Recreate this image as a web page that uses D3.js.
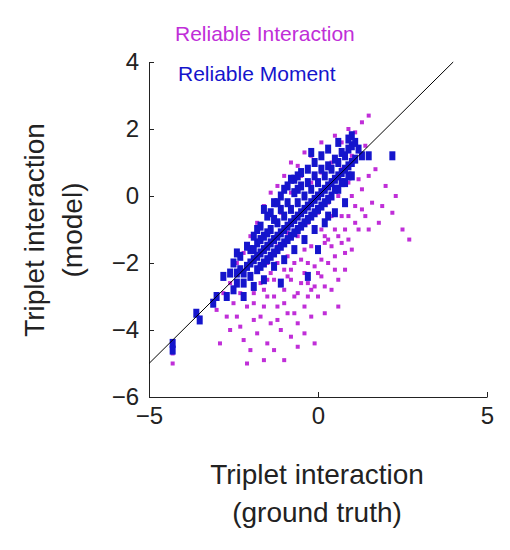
<!DOCTYPE html>
<html>
<head>
<meta charset="utf-8">
<script src="https://d3js.org/d3.v7.min.js"></script>
<style>body{margin:0;background:#fff;}</style>
</head>
<body>
<script>
// tick labels
var xTicks = [-5, 0, 5];
var yTicks = [-6, -4, -2, 0, 2, 4];
// reliable interaction points (ground truth, model)
var interactionPts = [
 [-4.3,-5.0],[-4.3,-4.7],[-2.9,-4.4],[-2.6,-4.0],[-2.4,-3.6],[-2.3,-3.9],[-2.2,-4.3],[-2.1,-5.0],[-2.0,-4.6],
 [-1.9,-3.2],[-1.8,-4.1],[-1.7,-3.6],[-1.6,-4.9],[-1.5,-3.0],[-1.5,-4.4],[-1.4,-3.8],[-1.3,-2.5],[-1.3,-4.6],
 [-1.2,-3.3],[-1.1,-4.0],[-1.0,-2.8],[-1.0,-4.9],[-0.9,-3.5],[-0.8,-4.2],[-0.8,-2.2],[-0.7,-3.0],[-0.6,-4.5],
 [-0.6,-3.8],[-0.5,-2.6],[-0.4,-3.3],[-0.4,-4.1],[-0.3,-2.0],[-0.2,-3.6],[-0.2,-2.8],[-0.1,-4.4],[0.0,-3.0],
 [0.0,-1.6],[0.1,-2.4],[0.2,-3.5],[0.2,-1.2],[0.3,-2.0],[0.4,-2.8],[0.5,-1.0],[0.5,-1.8],[0.6,-3.3],[0.7,-1.4],
 [0.8,-2.2],[0.9,-0.6],[1.0,-1.6],[1.1,-0.3],[1.2,-1.0],[1.3,0.2],[1.4,-0.6],[1.5,0.6],[1.6,-0.2],[1.8,-0.8],
 [2.0,0.3],[2.2,-0.5],[2.5,-1.0],[2.7,-1.3],[1.4,1.5],[1.3,2.2],[1.5,2.4],[1.1,1.9],[0.9,2.0],[0.7,1.6],
 [0.5,1.8],[0.3,1.4],[0.1,1.6],[-0.2,1.2],[-0.4,1.3],[-0.6,0.9],[-0.8,1.0],[-1.0,0.6],[-1.2,0.3],[-1.4,0.1],
 [-1.6,-0.3],[-1.8,-0.8],[-2.0,-1.2],[-2.2,-1.7],[-2.4,-2.0],[-2.6,-2.6],[-2.8,-2.9],[-3.0,-3.4],
 [-1.5,-2.0],[-1.2,-1.5],[-0.9,-1.8],[-0.6,-1.2],[-0.3,-0.8],[0.0,-0.5],[0.3,-0.2],[0.6,0.0],[0.9,0.4],
 [-1.7,-2.6],[-1.4,-2.3],[-1.1,-2.6],[-0.8,-2.5],[-0.5,-1.9],[-0.2,-1.5],[0.1,-1.0],[0.4,-0.6],[0.7,-0.6],
 [-2.0,-2.4],[-1.9,-2.9],[-1.6,-3.3],[-1.3,-3.0],[-1.0,-3.2],[-0.7,-2.0],[-0.4,-2.3],[-0.1,-2.1],[0.2,-1.4],
 [-0.5,0.6],[-0.2,0.4],[0.1,0.7],[0.4,1.0],[0.7,0.8],[1.0,1.2],[-1.1,-0.5],[-0.8,0.1],[1.2,0.5],[1.7,0.8],
 [-2.3,-2.9],[-2.1,-3.3],[-1.8,-2.2],[-0.9,-1.1],[0.3,-1.3],[0.8,-1.0],[1.9,-0.3],[2.3,0.0],
 [-1.9,-3.7],[-1.6,-2.8],[-1.2,-2.0],[-1.2,-3.7],[-0.9,-2.4],[-0.6,-2.9],[-0.3,-2.6],[-0.3,-3.0],[0.0,-2.3],
 [0.1,-1.9],[0.4,-1.5],[0.6,-2.5],[0.6,-1.2],[0.9,-1.3],[1.1,-0.8],[1.3,-0.4],[1.0,0.0],[-2.5,-3.2],[-2.7,-3.6],
 [-0.7,-3.5],[-0.4,-1.6],[-1.5,-2.5],[-1.0,-2.2],[0.2,-2.7],[0.5,-2.2],[-0.1,-2.7],[0.8,-1.7],[1.5,-1.0]
];
// reliable moment points
var momentPts = [
 [-4.3,-4.4],[-4.3,-4.6],[-3.6,-3.5],[-3.5,-3.7],[-3.1,-3.2],[-3.0,-3.0],[-2.8,-2.4],[-2.5,-2.0],[-2.5,-2.8],
 [-2.4,-2.3],[-2.3,-1.8],[-2.2,-2.6],[-2.1,-2.1],[-2.0,-1.6],[-2.0,-2.4],[-1.9,-1.9],[-1.8,-1.4],[-1.8,-2.2],
 [-1.7,-1.7],[-1.6,-1.2],[-1.6,-2.0],[-1.5,-1.5],[-1.4,-1.0],[-1.4,-1.8],[-1.3,-1.3],[-1.2,-0.8],[-1.2,-1.6],
 [-1.1,-1.1],[-1.0,-0.6],[-1.0,-1.4],[-0.9,-0.9],[-0.8,-0.4],[-0.8,-1.2],[-0.7,-0.7],[-0.6,-0.2],[-0.6,-1.0],
 [-0.5,-0.5],[-0.4,0.0],[-0.4,-0.8],[-0.3,-0.3],[-0.2,0.2],[-0.2,-0.6],[-0.1,-0.1],[0.0,0.4],[0.0,-0.4],
 [0.1,0.1],[0.2,0.6],[0.2,-0.2],[0.3,0.3],[0.4,0.8],[0.4,0.0],[0.5,0.5],[0.6,1.0],[0.6,0.2],[0.7,0.7],
 [0.8,1.2],[0.8,0.4],[0.9,0.9],[1.0,1.5],[1.0,1.8],[1.0,0.6],[1.1,1.1],[1.3,1.2],[1.5,1.2],[2.2,1.2],
 [-1.9,-1.2],[-1.7,-0.9],[-1.5,-0.6],[-1.3,-0.2],[-1.1,0.0],[-0.9,0.3],[-0.7,0.5],[-0.5,0.7],[-0.3,0.8],
 [-0.1,1.0],[0.1,1.2],[0.3,1.4],[-2.2,-3.0],[-1.9,-2.7],[-1.6,-2.5],[-1.3,-2.1],[-1.0,-1.9],[-0.7,-1.6],
 [-0.4,-1.3],[-0.1,-1.0],[0.2,-0.8],[0.5,-0.5],[0.8,-0.2],[-2.6,-2.3],[-2.7,-3.0],[-1.6,-0.4],[-0.2,1.3],
 [0.3,-0.6],[-0.6,0.2],[-1.8,-1.0],[-2.4,-1.7],[0.0,-1.6],[-0.3,-2.4],[-1.1,-2.6],[0.6,1.6],[0.9,1.7],
 [-2.3,-2.2],[-2.1,-1.5],[-2.0,-2.0],[-1.9,-1.6],[-1.7,-1.3],[-1.7,-2.1],[-1.5,-1.1],[-1.5,-1.9],[-1.3,-0.7],
 [-1.3,-1.7],[-1.1,-0.4],[-1.1,-1.5],[-0.9,-0.2],[-0.9,-1.3],[-0.7,0.1],[-0.7,-1.1],[-0.5,0.3],[-0.5,-0.9],
 [-0.3,0.4],[-0.3,-0.7],[-0.1,0.6],[-0.1,-0.5],[0.1,0.8],[0.1,-0.3],[0.3,0.9],[0.3,-0.1],[0.5,1.1],[0.5,0.2],
 [0.7,1.3],[0.7,0.4],[0.9,1.4],[0.9,0.6],[1.1,1.6],[-1.4,-0.5],[-1.2,-0.2],[-1.0,0.2],[-0.8,0.5],[-0.6,0.6],
 [-2.4,-2.6],[-2.2,-2.3],[-1.8,-1.8],[-1.6,-1.6],[-1.4,-1.4],[-1.2,-1.2],[-1.0,-1.0],[-0.8,-0.8],[-0.6,-0.6],
 [-0.4,-0.4],[-0.2,-0.2],[0.0,0.0],[0.2,0.2],[0.4,0.4],[0.6,0.6],[0.8,0.8],[1.0,1.0],[1.2,1.4]
];

var W = 510, H = 550;
var svg = d3.select("body").append("svg").attr("width", W).attr("height", H);

var x = d3.scaleLinear().domain([-5, 5]).range([149, 487]);
var y = d3.scaleLinear().domain([-6, 4]).range([397, 62]);

var lf = "Arial, 'Liberation Sans', sans-serif";
var xAxis = svg.append("g").attr("transform", "translate(0,397)")
  .call(d3.axisBottom(x).tickValues(xTicks).tickSizeInner(-5).tickSizeOuter(0).tickPadding(10));
var yAxis = svg.append("g").attr("transform", "translate(149,0)")
  .call(d3.axisLeft(y).tickValues(yTicks).tickSizeInner(-5).tickSizeOuter(0).tickPadding(10));
svg.selectAll(".tick text").attr("font-family", lf).attr("font-size", 24).attr("fill", "#222");
svg.selectAll(".domain, .tick line").attr("stroke", "#222");

// points
svg.append("g").selectAll("rect").data(interactionPts).enter().append("rect")
  .attr("x", d => x(d[0]) - 2).attr("y", d => y(d[1]) - 2)
  .attr("width", 4).attr("height", 4).attr("fill", "#c02ed8");
svg.append("g").selectAll("rect").data(momentPts).enter().append("rect")
  .attr("x", d => x(d[0]) - 3).attr("y", d => y(d[1]) - 4.5)
  .attr("width", 6).attr("height", 9).attr("fill", "#1515cc");

// identity line
svg.append("line").attr("x1", x(-5)).attr("y1", y(-5)).attr("x2", x(4)).attr("y2", y(4))
  .attr("stroke", "#000").attr("stroke-width", 1);

// legend
svg.append("text").text("Reliable Interaction").attr("x", 175).attr("y", 41)
  .attr("font-family", lf).attr("font-size", 21).attr("fill", "#c02ed8");
svg.append("text").text("Reliable Moment").attr("x", 178).attr("y", 81)
  .attr("font-family", lf).attr("font-size", 21).attr("fill", "#1515cc");

// axis labels
svg.append("text").text("Triplet interaction").attr("x", 317).attr("y", 484)
  .attr("text-anchor", "middle").attr("font-family", lf).attr("font-size", 28).attr("fill", "#222");
svg.append("text").text("(ground truth)").attr("x", 317).attr("y", 522)
  .attr("text-anchor", "middle").attr("font-family", lf).attr("font-size", 28).attr("fill", "#222");
svg.append("text").text("Triplet interaction").attr("transform", "translate(44,230) rotate(-90)")
  .attr("text-anchor", "middle").attr("font-family", lf).attr("font-size", 28).attr("fill", "#222");
svg.append("text").text("(model)").attr("transform", "translate(82,230) rotate(-90)")
  .attr("text-anchor", "middle").attr("font-family", lf).attr("font-size", 28).attr("fill", "#222");
</script>
</body>
</html>
